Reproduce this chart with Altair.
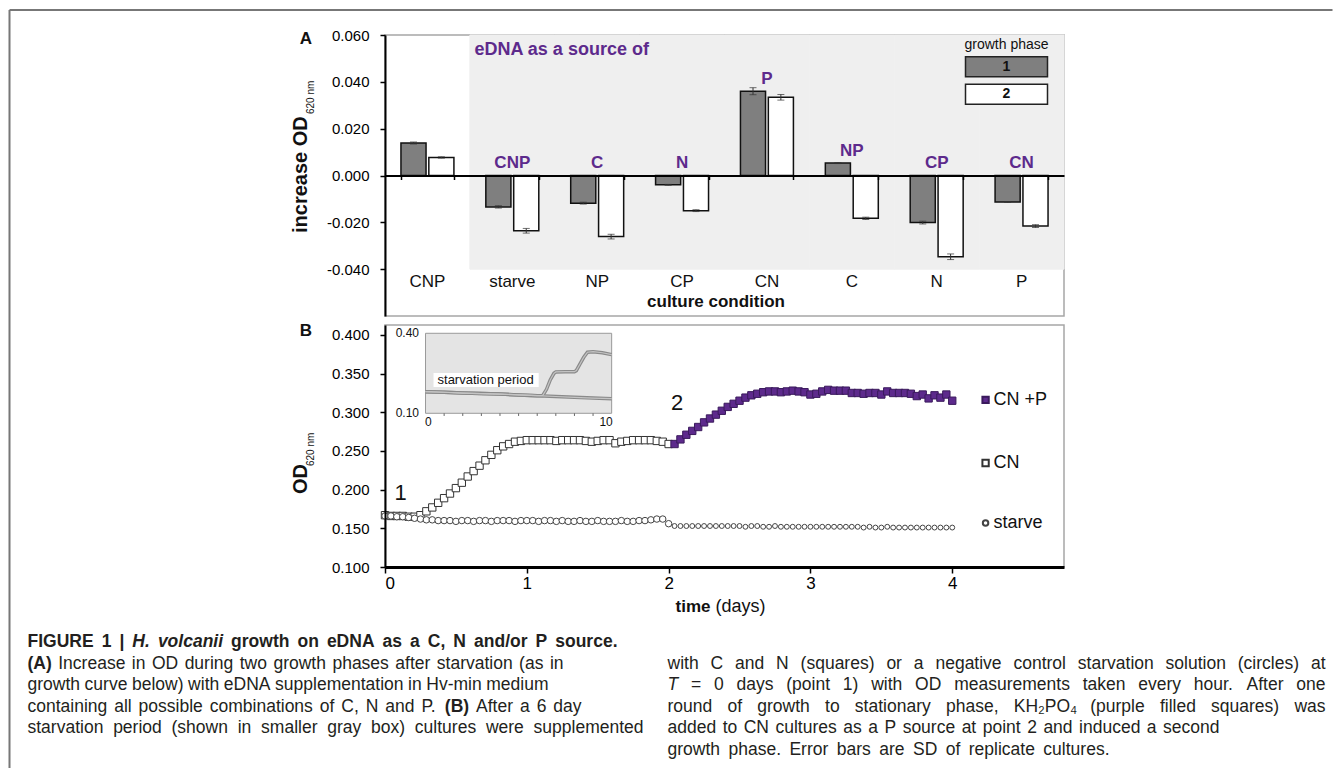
import altair as alt
import pandas as pd

FONT = "Liberation Sans"
PURPLE = "#5d2a8c"
INK = "#111111"

# ---------------- data: panel A ----------------
conditions = ["CNP", "starve", "NP", "CP", "CN", "C", "N", "P"]
edna_source = ["", "CNP", "C", "N", "P", "NP", "CP", "CN"]
phase1_increase = [0.0139, -0.0134, -0.0118, -0.0040, 0.0360, 0.0053, -0.0201, -0.0113]
phase2_increase = [0.0077, -0.0236, -0.0261, -0.0150, 0.0334, -0.0183, -0.0347, -0.0216]
phase1_sd = [0.0004, 0.0005, 0.0004, 0.0002, 0.0015, 0.0002, 0.0006, 0.0002]
phase2_sd = [0.0003, 0.0010, 0.0010, 0.0004, 0.0012, 0.0005, 0.0012, 0.0006]
a_ticks = [-0.04, -0.02, 0.0, 0.02, 0.04, 0.06]

# ---------------- data: panel B (hourly OD620) ----------------
starve_hours = list(range(97))
starve_od = [
    0.166, 0.166, 0.165, 0.165, 0.164, 0.163, 0.162, 0.161, 0.161, 0.160,
    0.160, 0.160, 0.159, 0.160, 0.160, 0.159, 0.160, 0.160, 0.159, 0.160,
    0.160, 0.160, 0.159, 0.160, 0.160, 0.160, 0.159, 0.160, 0.160, 0.159,
    0.160, 0.159, 0.159, 0.160, 0.159, 0.159, 0.160, 0.159, 0.159, 0.159,
    0.160, 0.159, 0.159, 0.160, 0.160, 0.161, 0.162, 0.162, 0.156,
    0.153, 0.153, 0.153, 0.153, 0.153, 0.153, 0.153, 0.153, 0.153, 0.153,
    0.153, 0.153, 0.152, 0.153, 0.153, 0.152, 0.152, 0.153, 0.152, 0.152,
    0.152, 0.152, 0.152, 0.152, 0.152, 0.152, 0.152, 0.152, 0.152, 0.152,
    0.152, 0.152, 0.151, 0.152, 0.151, 0.151, 0.152, 0.151, 0.151, 0.151,
    0.151, 0.151, 0.151, 0.151, 0.151, 0.151, 0.151, 0.151,
]
cn_hours = list(range(49))
cn_od = [
    0.167, 0.166, 0.166, 0.166, 0.165, 0.165, 0.167, 0.172, 0.177, 0.183,
    0.189, 0.195, 0.202, 0.209, 0.217, 0.224, 0.231, 0.238, 0.245, 0.251,
    0.256, 0.259, 0.262, 0.263, 0.264, 0.264, 0.264, 0.264, 0.264, 0.263,
    0.264, 0.264, 0.264, 0.264, 0.263, 0.262, 0.263, 0.264, 0.264, 0.260,
    0.262, 0.263, 0.264, 0.264, 0.264, 0.264, 0.263, 0.262, 0.259,
]
cnp_hours = list(range(49, 97))
cnp_od = [
    0.259, 0.265, 0.271, 0.276, 0.281, 0.287, 0.292, 0.297, 0.302, 0.307,
    0.311, 0.315, 0.319, 0.322, 0.324, 0.326, 0.327, 0.327, 0.326, 0.327,
    0.328, 0.327, 0.326, 0.323, 0.324, 0.327, 0.329, 0.328, 0.328, 0.328,
    0.325, 0.325, 0.324, 0.325, 0.325, 0.323, 0.327, 0.325, 0.325, 0.325,
    0.324, 0.321, 0.323, 0.318, 0.322, 0.319, 0.323, 0.315,
]
b_ticks_x = [0, 1, 2, 3, 4]
b_ticks_y = [0.100, 0.150, 0.200, 0.250, 0.300, 0.350, 0.400]
series_b = ["CN +P", "CN", "starve"]

# inset: 6-day starvation period followed by growth (days)
inset_cn_days = [0, 1, 2, 3, 4, 5, 6, 6.3, 6.5, 6.7, 6.9, 7.0, 7.5, 8.0, 8.1, 8.3, 8.5, 8.7, 9.0, 9.5, 10]
inset_cn_od = [0.181, 0.179, 0.176, 0.174, 0.172, 0.169, 0.166, 0.167, 0.190, 0.225, 0.250,
               0.255, 0.256, 0.256, 0.260, 0.285, 0.310, 0.329, 0.331, 0.327, 0.320]
inset_starve_days = [0, 1, 2, 3, 4, 5, 6, 7, 8, 9, 10]
inset_starve_od = [0.181, 0.179, 0.176, 0.174, 0.172, 0.169, 0.166, 0.163, 0.160, 0.157, 0.155]

# ---------------- caption text (runs of text, style) ----------------
caption_runs = [
    [("FIGURE 1 |", "b"), ("H. volcanii", "bi"), ("growth on eDNA as a C, N and/or P source.", "b")],
    [("(A)", "b"), ("Increase in OD during two growth phases after starvation (as in", "n")],
    [("growth curve below) with eDNA supplementation in Hv-min medium", "n")],
    [("containing all possible combinations of C, N and P.", "n"), ("(B)", "b"), ("After a 6 day", "n")],
    [("starvation period (shown in smaller gray box) cultures were supplemented", "n")],
    [("with C and N (squares) or a negative control starvation solution (circles) at", "n")],
    [("T", "i"), ("= 0 days (point 1) with OD measurements taken every hour. After one", "n")],
    [("round of growth to stationary phase, KH\u2082PO\u2084 (purple filled squares) was", "n")],
    [("added to CN cultures as a P source at point 2 and induced a second", "n")],
    [("growth phase. Error bars are SD of replicate cultures.", "n")],
]

# ---------------- layout ----------------
W, HA, HB, SP = 679, 281, 242, 9
OX, OYA, OYB = 384.5, 35, 325
OYC = OYB + HB + SP
one = pd.DataFrame({"_": [0]})
# caption line placement: (start x, baseline y, end x) in page pixels
caption_layout = [
    (27, 647, 617), (27, 668.5, 563), (27, 690, 548), (27, 711.5, 581), (27, 733, 643),
    (667, 668.5, 1325), (667, 690, 1325), (667, 711.5, 1325), (667, 733, 1219), (667, 754.5, 1109),
]
CAP_SIZE = 17.5

# ================= PANEL A =================
rows = []
for i, c in enumerate(conditions):
    for ph, vals, sds in (("1", phase1_increase, phase1_sd), ("2", phase2_increase, phase2_sd)):
        rows.append({"cond": c, "phase": ph, "v": vals[i], "lo": vals[i] - sds[i], "hi": vals[i] + sds[i]})
bars_df = pd.DataFrame(rows)
lab_df = pd.DataFrame({"cond": conditions, "src": edna_source,
                       "ly": [max(0.0, v) + 0.0015 for v in phase1_increase]})
lab_df = lab_df[lab_df["src"] != ""]
cond_df = pd.DataFrame({"cond": conditions})
shade_df = pd.DataFrame({"cond": conditions[1:]})

PI = 0.376
sxA = alt.Scale(domain=conditions, paddingInner=PI, paddingOuter=PI / 2)
syA = alt.Scale(domain=[-0.06, 0.06], nice=False, zero=False)
sOff = alt.Scale(domain=["1", "2"], paddingInner=0.1)

axisXA = alt.Axis(title=None, labels=False, orient="bottom", offset=-HA / 2, tickBand="extent",
                  tickSize=4, tickWidth=1.5, tickColor="black", domainColor="black",
                  domainWidth=2, grid=False, zindex=1)
axisYA = alt.Axis(title=None, values=a_ticks,
                  labelExpr="(datum.value < 0 ? '-' : '') + format(abs(datum.value), '.3f')",
                  labelFontSize=15, labelColor="black", tickSize=5, tickWidth=1.5,
                  tickColor="black", domainColor="black", domainWidth=2, labelPadding=11,
                  grid=False, zindex=1)


def xA():
    return alt.X("cond:N", scale=sxA, axis=axisXA)


def yA(field):
    return alt.Y(field, scale=syA, axis=axisYA)


def yAd(v):
    return alt.YDatum(v, scale=syA, axis=axisYA, type="quantitative")


offA = alt.XOffset("phase:N", scale=sOff)

shade = alt.Chart(shade_df).mark_bar(color="#efefef", stroke="#efefef", strokeWidth=1,
                                     width=alt.RelativeBandSize(1 / (1 - PI))).encode(
    x=xA(), y=yAd(0.06), y2=alt.Y2Datum(-0.04))

bars = alt.Chart(bars_df).mark_bar(stroke="#111", strokeWidth=1.5).encode(
    x=xA(), xOffset=offA, y=yA("v:Q"),
    fill=alt.Fill("phase:N", scale=alt.Scale(domain=["1", "2"], range=["#7f7f7f", "#ffffff"]), legend=None),
)
err = alt.Chart(bars_df).mark_rule(color="#333", strokeWidth=1).encode(
    x=xA(), xOffset=offA, y=yA("lo:Q"), y2="hi:Q")
cap_lo = alt.Chart(bars_df).mark_tick(color="#333", thickness=1, size=7).encode(
    x=xA(), xOffset=offA, y=yA("lo:Q"))
cap_hi = alt.Chart(bars_df).mark_tick(color="#333", thickness=1, size=7).encode(
    x=xA(), xOffset=offA, y=yA("hi:Q"))

src_labels = alt.Chart(lab_df).mark_text(color=PURPLE, fontWeight="bold", fontSize=17,
                                         baseline="bottom").encode(
    x=xA(), y=yA("ly:Q"), text="src:N")
cond_labels = alt.Chart(cond_df).mark_text(color=INK, fontSize=17, baseline="middle").encode(
    x=xA(), y=yAd(-0.0455), text="cond:N")
cc_title = alt.Chart(one).mark_text(text="culture condition", color=INK, fontSize=17,
                                    fontWeight="bold", baseline="middle").encode(
    x=alt.value(331), y=yAd(-0.0539))


def ptext(txt, x, y, **kw):
    base = dict(text=txt, color=INK, baseline="middle", align="center")
    base.update(kw)
    return alt.Chart(one).mark_text(**base).encode(x=alt.value(x), y=alt.value(y))


def prect(x, x2, y, y2, fill):
    return alt.Chart(one).mark_rect(fill=fill, stroke="#222", strokeWidth=1.5).encode(
        x=alt.value(x), x2=alt.value(x2), y=alt.value(y), y2=alt.value(y2))


a_annot = [
    ptext("A", -79, 4, fontSize=17, fontWeight="bold"),
    ptext("eDNA as a source of", 89.5, 15, fontSize=18, fontWeight="bold", color=PURPLE, align="left"),
    ptext("growth phase", 621.5, 10, fontSize=14),
    prect(580.5, 662.5, 21.7, 41.7, "#7f7f7f"),
    prect(580.5, 662.5, 49.3, 69.3, "#ffffff"),
    ptext("1", 621.5, 31.7, fontSize=14, fontWeight="bold"),
    ptext("2", 621.5, 59.3, fontSize=14, fontWeight="bold"),
    ptext("increase OD", -84, 198, fontSize=20, fontWeight="bold", angle=270, align="left"),
    ptext("620 nm", -74.5, 79, fontSize=10, angle=270, align="left"),
]

panelA = alt.layer(shade, bars, err, cap_lo, cap_hi, src_labels, cond_labels, cc_title,
                   *a_annot).properties(width=W, height=HA)

# ================= PANEL B =================
starve_df = pd.DataFrame({"t": [h / 24 for h in starve_hours], "od": starve_od})
cn_df = pd.DataFrame({"t": [h / 24 for h in cn_hours], "od": cn_od})
cnp_df = pd.DataFrame({"t": [h / 24 for h in cnp_hours], "od": cnp_od})

sxB = alt.Scale(domain=[0, 4.788], nice=False, zero=False)
syB = alt.Scale(domain=[0.1, 0.4129], nice=False, zero=False)
axisXB = alt.Axis(title=None, values=b_ticks_x, format="d", labelFontSize=17, labelColor="black",
                  tickSize=6, tickWidth=1.5, tickColor="black", domainColor="black",
                  domainWidth=3, labelPadding=2, grid=False, zindex=1)
axisYB = alt.Axis(title=None, values=b_ticks_y, format=".3f", labelFontSize=15, labelColor="black",
                  tickSize=5, tickWidth=1.5, tickColor="black", domainColor="black",
                  domainWidth=2, labelPadding=11, grid=False, zindex=1)


def xB(field):
    return alt.X(field, scale=sxB, axis=axisXB)


def yB(field):
    return alt.Y(field, scale=syB, axis=axisYB)


def xBd(v):
    return alt.XDatum(v, scale=sxB, axis=axisXB, type="quantitative")


def yBd(v):
    return alt.YDatum(v, scale=syB, axis=axisYB, type="quantitative")


starve1 = alt.Chart(starve_df).transform_filter("datum.t <= 2.001").mark_point(
    shape="circle", filled=True, fill="white", stroke="#444", strokeWidth=1, size=42, opacity=1).encode(
    x=xB("t:Q"), y=yB("od:Q"))
starve2 = alt.Chart(starve_df).transform_filter("datum.t > 2.001").mark_point(
    shape="circle", filled=True, fill="white", stroke="#444", strokeWidth=1, size=24, opacity=1).encode(
    x=xB("t:Q"), y=yB("od:Q"))
cn_pts = alt.Chart(cn_df).mark_point(shape="square", filled=True, fill="white", stroke="#333",
                                     strokeWidth=1, size=54, opacity=1).encode(
    x=xB("t:Q"), y=yB("od:Q"))
cnp_pts = alt.Chart(cnp_df).mark_point(shape="square", filled=True, fill=PURPLE, stroke="#3a1a5c",
                                       strokeWidth=1, size=54, opacity=1).encode(
    x=xB("t:Q"), y=yB("od:Q"))

leg_y = [0.316, 0.2345, 0.157]
leg_x_marker, leg_x_text = 4.235, 4.29
leg_df = pd.DataFrame({"s": series_b, "ly": leg_y})
leg_text = alt.Chart(leg_df).mark_text(align="left", baseline="middle", fontSize=18, color=INK).encode(
    x=xBd(leg_x_text), y=yB("ly:Q"), text="s:N")
leg_m1 = alt.Chart(one).mark_point(shape="square", filled=True, fill=PURPLE, stroke="#3a1a5c",
                                   size=40, opacity=1).encode(x=xBd(leg_x_marker), y=yBd(leg_y[0]))
leg_m2 = alt.Chart(one).mark_point(shape="square", filled=True, fill="white", stroke="#333",
                                   size=40, opacity=1).encode(x=xBd(leg_x_marker), y=yBd(leg_y[1]))
leg_m3 = alt.Chart(one).mark_point(shape="circle", filled=True, fill="white", stroke="#444",
                                   size=30, opacity=1).encode(x=xBd(leg_x_marker), y=yBd(leg_y[2]))

pt1 = alt.Chart(one).mark_text(text="1", fontSize=22, color=INK).encode(x=xBd(0.11), y=yBd(0.196))
pt2 = alt.Chart(one).mark_text(text="2", fontSize=22, color=INK).encode(x=xBd(2.06), y=yBd(0.312))

b_annot = [
    ptext("B", -79, 6, fontSize=17, fontWeight="bold"),
    ptext("OD", -84, 169, fontSize=20, fontWeight="bold", angle=270, align="left"),
    ptext("620 nm", -74.5, 141, fontSize=10, angle=270, align="left"),
    ptext("time", 290.5, 282, fontSize=17, fontWeight="bold", align="left"),
    ptext("(days)", 330.5, 282, fontSize=18, align="left"),
]

main_b = alt.layer(cn_pts, starve1, starve2, cnp_pts, leg_text, leg_m1, leg_m2, leg_m3, pt1, pt2, *b_annot)

# inset (own scales)
sxI = alt.Scale(domain=[-2.177, 34.30], nice=False, zero=False)
syI = alt.Scale(domain=[-0.4764, 0.4311], nice=False, zero=False)


def xId(v):
    return alt.XDatum(v, scale=sxI, axis=None, type="quantitative")


def yId(v):
    return alt.YDatum(v, scale=syI, axis=None, type="quantitative")


inset_df = pd.concat([
    pd.DataFrame({"d": inset_cn_days, "od": inset_cn_od, "s": "CN"}),
    pd.DataFrame({"d": inset_starve_days, "od": inset_starve_od, "s": "starve"}),
])
inset_ticks = pd.DataFrame({"d": [1, 2, 3, 4, 5, 6, 7, 8, 9]})

ins_bg = alt.Chart(one).mark_rect(fill="#e4e4e4", stroke="#9a9a9a", strokeWidth=1).encode(
    x=xId(0), x2=alt.X2Datum(10), y=yId(0.10), y2=alt.Y2Datum(0.40))
ins_box = alt.Chart(one).mark_rect(fill="white").encode(
    x=xId(0.43), x2=alt.X2Datum(6.08), y=yId(0.199), y2=alt.Y2Datum(0.251))
ins_lines = alt.Chart(inset_df).mark_line(color="#8a8a8a", strokeWidth=3.5).encode(
    x=alt.X("d:Q", scale=sxI, axis=None), y=alt.Y("od:Q", scale=syI, axis=None), detail="s:N")
ins_lines2 = alt.Chart(inset_df).mark_line(color="#c4c4c4", strokeWidth=1.2).encode(
    x=alt.X("d:Q", scale=sxI, axis=None), y=alt.Y("od:Q", scale=syI, axis=None), detail="s:N")
ins_tk = alt.Chart(inset_ticks).mark_rule(color="#666", strokeWidth=1).encode(
    x=alt.X("d:Q", scale=sxI, axis=None), y=yId(0.10), y2=alt.Y2Datum(0.09))
ins_t1 = alt.Chart(one).mark_text(text="0.40", fontSize=12, align="right", color=INK).encode(
    x=xId(-0.35), y=yId(0.40))
ins_t2 = alt.Chart(one).mark_text(text="0.10", fontSize=12, align="right", color=INK).encode(
    x=xId(-0.35), y=yId(0.10))
ins_t3 = alt.Chart(one).mark_text(text="0", fontSize=12, baseline="top", color=INK).encode(
    x=xId(0.15), y=yId(0.086))
ins_t4 = alt.Chart(one).mark_text(text="10", fontSize=12, baseline="top", color=INK).encode(
    x=xId(9.7), y=yId(0.086))
ins_t5 = alt.Chart(one).mark_text(text="starvation period", fontSize=13, align="left",
                                  baseline="middle", color=INK).encode(x=xId(0.645), y=yId(0.225))

inset = alt.layer(ins_bg, ins_box, ins_lines, ins_lines2, ins_tk, ins_t1, ins_t2, ins_t3, ins_t4, ins_t5)

panelB = alt.layer(main_b, inset).resolve_scale(x="independent", y="independent").properties(
    width=W, height=HB)

# ================= CAPTION (word-spaced to match the printed lines) =================
W_REG = {" ": 278, "(": 333, ")": 333, ",": 278, "-": 333, ".": 278, "/": 278, "=": 584, "|": 260,
         "\u2082": 333, "\u2084": 333,
         "A": 667, "B": 667, "C": 722, "D": 722, "E": 667, "F": 611, "G": 778, "H": 722, "I": 278,
         "J": 500, "K": 667, "L": 556, "M": 833, "N": 722, "O": 778, "P": 667, "Q": 778, "R": 722,
         "S": 667, "T": 611, "U": 722, "V": 667, "W": 944, "X": 667, "Y": 667, "Z": 611,
         "a": 556, "b": 556, "c": 500, "d": 556, "e": 556, "f": 278, "g": 556, "h": 556, "i": 222,
         "j": 222, "k": 500, "l": 222, "m": 833, "n": 556, "o": 556, "p": 556, "q": 556, "r": 333,
         "s": 500, "t": 278, "u": 556, "v": 500, "w": 722, "x": 500, "y": 500, "z": 500}
W_BOLD = {" ": 278, "(": 333, ")": 333, ",": 278, "-": 333, ".": 278, "/": 278, "=": 584, "|": 280,
          "A": 722, "B": 722, "C": 722, "D": 722, "E": 667, "F": 611, "G": 778, "H": 722, "I": 278,
          "J": 556, "K": 722, "L": 611, "M": 833, "N": 722, "O": 778, "P": 667, "Q": 778, "R": 722,
          "S": 667, "T": 611, "U": 722, "V": 667, "W": 944, "X": 667, "Y": 667, "Z": 611,
          "a": 556, "b": 611, "c": 556, "d": 611, "e": 556, "f": 333, "g": 611, "h": 611, "i": 278,
          "j": 278, "k": 556, "l": 278, "m": 889, "n": 611, "o": 611, "p": 611, "q": 611, "r": 389,
          "s": 556, "t": 333, "u": 611, "v": 556, "w": 778, "x": 556, "y": 556, "z": 500}


def text_width(s, bold):
    tbl = W_BOLD if bold else W_REG
    return sum(tbl.get(ch, 556) for ch in s) * CAP_SIZE / 1000.0


MIN_GAP = 0.8 * 278 * CAP_SIZE / 1000.0
cap_rows = []
for runs, (x0, base, x1) in zip(caption_runs, caption_layout):
    words = [(w, st) for txt, st in runs for w in txt.split(" ") if w]
    widths = [text_width(w, st in ("b", "bi")) for w, st in words]
    gap = max(MIN_GAP, (x1 - x0 - sum(widths)) / max(1, len(words) - 1))
    xx = x0
    for (w, st), wd in zip(words, widths):
        cap_rows.append({"t": w, "st": st, "x": xx - OX, "y": base - OYC})
        xx += wd + gap
cap_df = pd.DataFrame(cap_rows)

styles = {"n": ("normal", "normal"), "b": ("bold", "normal"),
          "i": ("normal", "italic"), "bi": ("bold", "italic")}
cap_layers = []
for key, (fw, fs) in styles.items():
    cap_layers.append(
        alt.Chart(cap_df).transform_filter(f"datum.st == '{key}'").mark_text(
            align="left", baseline="alphabetic", fontSize=CAP_SIZE, fontWeight=fw, fontStyle=fs,
            color="#231f20"
        ).encode(x=alt.X("x:Q", scale=None, axis=None), y=alt.Y("y:Q", scale=None, axis=None), text="t:N")
    )

BOTTOM = 768
border_df = pd.DataFrame({
    "x": [9 - OX, 9 - OX], "x2": [9 - OX, 1332 - OX],
    "y": [10 - OYC, 10 - OYC], "y2": [BOTTOM - OYC, 10 - OYC],
})
border = alt.Chart(border_df).mark_rule(color="#777777", strokeWidth=2).encode(
    x=alt.X("x:Q", scale=None, axis=None), x2="x2:Q",
    y=alt.Y("y:Q", scale=None, axis=None), y2="y2:Q")

caption = alt.layer(border, *cap_layers).properties(
    width=W, height=BOTTOM - OYC, view=alt.ViewBackground(strokeOpacity=0, strokeWidth=0))

chart = alt.vconcat(panelA, panelB, caption, spacing=SP, bounds="flush").properties(
    padding={"left": 0, "top": 1, "right": 0, "bottom": 0}
).configure_view(stroke="#a6a6a6", strokeWidth=1.5).configure_text(font=FONT).configure_axis(
    labelFont=FONT)

chart.save("out.html", embed_options={"renderer": "svg", "actions": False})
